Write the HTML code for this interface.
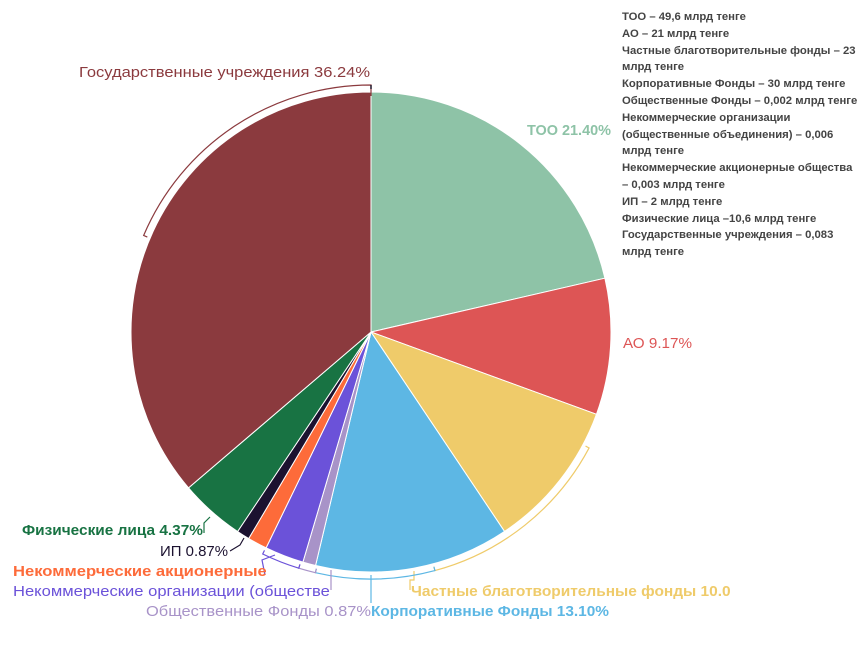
<!DOCTYPE html>
<html><head><meta charset="utf-8"><style>
html,body{margin:0;padding:0;background:#fff;width:867px;height:650px;overflow:hidden}
svg{display:block}
text{font-family:"Liberation Sans",sans-serif}
.lg{font-size:11.3px;font-weight:bold;fill:#444}
.lb{font-size:15px}
</style></head><body>
<svg id="s" width="867" height="650" viewBox="0 0 867 650">
<defs>
<clipPath id="c1"><rect x="0" y="560" width="266" height="25"/></clipPath>
<clipPath id="c2"><rect x="0" y="580" width="331" height="25"/></clipPath>
<clipPath id="c3"><rect x="400" y="580" width="330" height="25"/></clipPath>
</defs>
<g id="pie"></g>
<g id="br" fill="none" stroke-width="1.2"></g>
<text class="lb" x="79" y="77" fill="#8b3a3e" textLength="291" lengthAdjust="spacingAndGlyphs">Государственные учреждения 36.24%</text>
<text class="lb" x="527" y="135" fill="#8ec3a7" font-weight="bold" textLength="84" lengthAdjust="spacingAndGlyphs">ТОО 21.40%</text>
<text class="lb" x="623" y="348" fill="#dd5555" textLength="69" lengthAdjust="spacingAndGlyphs">АО 9.17%</text>
<text class="lb" x="411" y="596" fill="#efcb6a" font-weight="bold" clip-path="url(#c3)" textLength="342" lengthAdjust="spacingAndGlyphs">Частные благотворительные фонды 10.04%</text>
<text class="lb" x="371" y="616" fill="#5db7e4" font-weight="bold" textLength="238" lengthAdjust="spacingAndGlyphs">Корпоративные Фонды 13.10%</text>
<text class="lb" x="146" y="616" fill="#a893c8" textLength="225" lengthAdjust="spacingAndGlyphs">Общественные Фонды 0.87%</text>
<text class="lb" x="13" y="596" fill="#6b52d9" clip-path="url(#c2)" textLength="520" lengthAdjust="spacingAndGlyphs">Некоммерческие организации (общественные объединения) 2.62%</text>
<text class="lb" x="13" y="576" fill="#fd6b3a" font-weight="bold" clip-path="url(#c1)" textLength="390" lengthAdjust="spacingAndGlyphs">Некоммерческие акционерные общества 1.31%</text>
<text class="lb" x="160" y="556" fill="#1c1230" textLength="68" lengthAdjust="spacingAndGlyphs">ИП 0.87%</text>
<text class="lb" x="22" y="535" fill="#187343" font-weight="bold" textLength="181" lengthAdjust="spacingAndGlyphs">Физические лица 4.37%</text>
<g class="lg">
<text x="622" y="20">ТОО – 49,6 млрд тенге</text>
<text x="622" y="37">АО – 21 млрд тенге</text>
<text x="622" y="54">Частные благотворительные фонды – 23</text>
<text x="622" y="70">млрд тенге</text>
<text x="622" y="87">Корпоративные Фонды – 30 млрд тенге</text>
<text x="622" y="104">Общественные Фонды – 0,002 млрд тенге</text>
<text x="622" y="121">Некоммерческие организации</text>
<text x="622" y="138">(общественные объединения) – 0,006</text>
<text x="622" y="154">млрд тенге</text>
<text x="622" y="171">Некоммерческие акционерные общества</text>
<text x="622" y="188">– 0,003 млрд тенге</text>
<text x="622" y="205">ИП – 2 млрд тенге</text>
<text x="622" y="222">Физические лица –10,6 млрд тенге</text>
<text x="622" y="238">Государственные учреждения – 0,083</text>
<text x="622" y="255">млрд тенге</text>
</g>
</svg>
<script>
var cx=371,cy=332,R=240;
var d=[[21.40,"#8ec3a7"],[9.17,"#dd5555"],[10.04,"#efcb6a"],[13.10,"#5db7e4"],[0.87,"#a893c8"],[2.62,"#6b52d9"],[1.31,"#fd6b3a"],[0.87,"#1c1230"],[4.37,"#187343"],[36.25,"#8b3a3e"]];
function P(a,r){a=a*Math.PI/180;return [cx+r*Math.sin(a),cy-r*Math.cos(a)];}
var s="",acc=0,ang=[];
d.forEach(function(e){var a1=acc*3.6;acc+=e[0];var a2=acc*3.6;ang.push([a1,a2,e[1]]);
var p1=P(a1,R),p2=P(a2,R);var la=(a2-a1)>180?1:0;
s+='<path d="M'+cx+' '+cy+'L'+p1[0]+' '+p1[1]+'A'+R+' '+R+' 0 '+la+' 1 '+p2[0]+' '+p2[1]+'Z" fill="'+e[1]+'" stroke="#fff" stroke-width="1"/>';});
document.getElementById("pie").innerHTML=s;
function br(i,a1,a2,pts){var c=ang[i][2],r=247,q1=P(a1,r),q2=P(a2,r),t1=P(a1,243),t2=P(a2,243);
var la=(a2-a1)>180?1:0;
var h='<path stroke="'+c+'" d="M'+t1+'L'+q1+'A'+r+' '+r+' 0 '+la+' 1 '+q2+'L'+t2+'"/>';
if(pts)h+='<polyline stroke="'+c+'" points="'+pts+'"/>';return h;}
var b="";
b+=br(9,293,360,"371,85 371,96");
b+=br(2,118,165,"414,571 414,580 410,580 410,590");
b+=br(3,165,193,"371,575 371,603");
b+=br(4,193,197,"331,570 331,590");
b+=br(5,197,206,"275,555 262,560 265,575");
b+=br(8,0,0,"210,517 204,523 204,533");
b+=br(7,0,0,"244,538 240,545 230,551");
document.getElementById("br").innerHTML=b;
</script>
</body></html>
